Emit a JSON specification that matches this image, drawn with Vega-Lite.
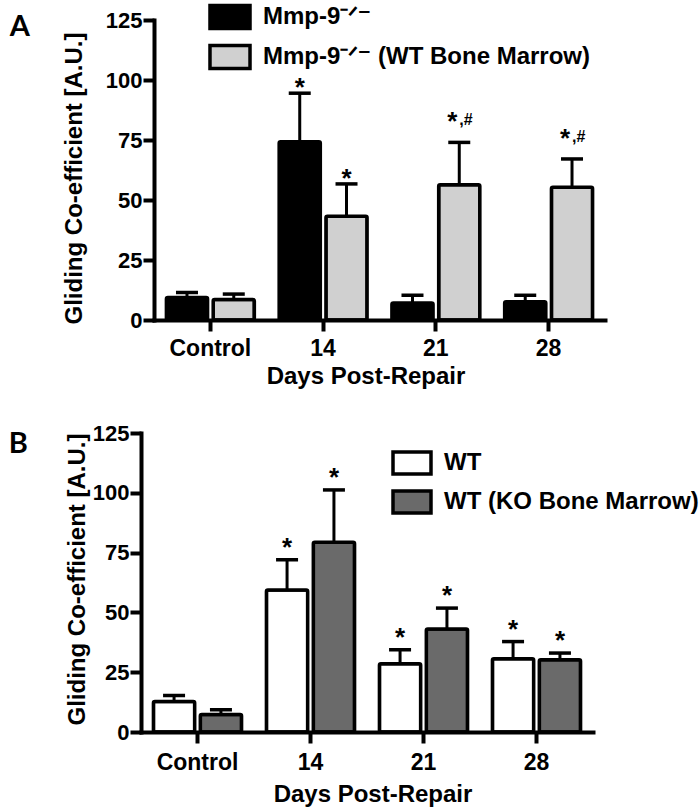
{
  "$schema": "https://vega.github.io/schema/vega-lite/v6.json",
  "padding": {"left": 8, "top": 3, "right": 2, "bottom": 2},
  "spacing": 34,
  "background": "white",
  "datasets": {
    "a": [
      {"day": "Control", "group": "Mmp-9⁻ᐟ⁻", "mean": 9.4, "err": 11.5, "ann": ""},
      {"day": "Control", "group": "Mmp-9⁻ᐟ⁻ (WT Bone Marrow)", "mean": 8.5, "err": 10.8, "ann": ""},
      {"day": "14", "group": "Mmp-9⁻ᐟ⁻", "mean": 74.3, "err": 94.5, "ann": "*"},
      {"day": "14", "group": "Mmp-9⁻ᐟ⁻ (WT Bone Marrow)", "mean": 43.2, "err": 56.7, "ann": "*"},
      {"day": "21", "group": "Mmp-9⁻ᐟ⁻", "mean": 7.1, "err": 10.3, "ann": ""},
      {"day": "21", "group": "Mmp-9⁻ᐟ⁻ (WT Bone Marrow)", "mean": 56.4, "err": 74, "ann": "*,#"},
      {"day": "28", "group": "Mmp-9⁻ᐟ⁻", "mean": 7.6, "err": 10.3, "ann": ""},
      {"day": "28", "group": "Mmp-9⁻ᐟ⁻ (WT Bone Marrow)", "mean": 55.3, "err": 67.1, "ann": "*,#"}
    ],
    "b": [
      {"day": "Control", "group": "WT", "mean": 12.8, "err": 15.3, "ann": ""},
      {"day": "Control", "group": "WT (KO Bone Marrow)", "mean": 7.3, "err": 9.3, "ann": ""},
      {"day": "14", "group": "WT", "mean": 59.4, "err": 72, "ann": "*"},
      {"day": "14", "group": "WT (KO Bone Marrow)", "mean": 79.3, "err": 101.2, "ann": "*"},
      {"day": "21", "group": "WT", "mean": 28.5, "err": 34.4, "ann": "*"},
      {"day": "21", "group": "WT (KO Bone Marrow)", "mean": 43.1, "err": 51.8, "ann": "*"},
      {"day": "28", "group": "WT", "mean": 30.6, "err": 37.8, "ann": "*"},
      {"day": "28", "group": "WT (KO Bone Marrow)", "mean": 30.2, "err": 33, "ann": "*"}
    ]
  },
  "config": {
    "view": {"stroke": null},
    "font": "Liberation Sans",
    "axis": {
      "grid": false,
      "domainColor": "black", "domainWidth": 4, "domainCap": "square",
      "tickColor": "black", "tickWidth": 4, "tickSize": 11,
      "labelColor": "black", "labelFont": "Liberation Sans", "labelFontWeight": "bold",
      "titleColor": "black", "titleFont": "Liberation Sans", "titleFontWeight": "bold", "titleFontSize": 24
    },
    "axisX": {"labelFontSize": 23, "labelAngle": 0, "labelBaseline": "alphabetic", "titleBaseline": "alphabetic"},
    "axisY": {"labelFontSize": 22, "labelPadding": 1, "titleBaseline": "alphabetic"},
    "legend": {
      "orient": "none", "title": null, "padding": 0,
      "labelFont": "Liberation Sans", "labelFontWeight": "bold", "labelFontSize": 24, "labelColor": "black",
      "labelLimit": 600,
      "symbolStrokeColor": "black", "symbolStrokeWidth": 3.5, "symbolOpacity": 1
    },
    "title": {"orient": "left", "anchor": "end", "frame": "group", "angle": 0, "align": "right", "baseline": "alphabetic", "font": "Lato", "fontSize": 29, "fontWeight": "bold", "color": "black"}
  },
  "resolve": {"scale": {"fill": "independent", "x": "independent", "y": "independent", "xOffset": "independent"}, "legend": {"fill": "independent"}},
  "vconcat": [
    {
      "width": 451,
      "height": 300,
      "title": {"text": "A", "offset": 12, "dy": -7},
      "data": {"name": "a"},
      "encoding": {
        "x": {"field": "day", "type": "nominal", "sort": ["Control", "14", "21", "28"],
          "scale": {"paddingInner": 0.22, "paddingOuter": 0.11},
          "axis": {"title": "Days Post-Repair", "titleX": 211.5, "titleY": 63, "labelPadding": 24}},
        "xOffset": {"field": "group", "type": "nominal", "sort": ["Mmp-9⁻ᐟ⁻", "Mmp-9⁻ᐟ⁻ (WT Bone Marrow)"], "scale": {"paddingInner": 0.12}},
        "y": {"field": "mean", "type": "quantitative", "scale": {"domain": [0, 125], "nice": false},
          "axis": {"title": "Gliding Co-efficient [A.U.]", "values": [0, 25, 50, 75, 100, 125], "titleX": -73, "titleY": 158}}
      },
      "layer": [
        {"mark": {"type": "rule", "strokeWidth": 3, "color": "black"}, "encoding": {"y2": {"field": "err"}}},
        {"mark": {"type": "bar", "stroke": "black", "strokeWidth": 3.5, "cornerRadius": 1.5, "opacity": 1},
          "encoding": {"fill": {"field": "group", "type": "nominal", "sort": ["Mmp-9⁻ᐟ⁻", "Mmp-9⁻ᐟ⁻ (WT Bone Marrow)"],
            "scale": {"domain": ["Mmp-9⁻ᐟ⁻", "Mmp-9⁻ᐟ⁻ (WT Bone Marrow)"], "range": ["#000000", "#d0d0d0"]},
            "legend": {"legendX": 62.5, "legendY": -16.5, "symbolType": "M-1.74,-1H1.74V1H-1.74Z", "symbolSize": 529, "rowPadding": 3, "labelOffset": 19.5}}}},
        {"mark": {"type": "tick", "size": 22, "thickness": 3.5, "color": "black", "opacity": 1}, "encoding": {"y": {"field": "err", "type": "quantitative"}}},
        {"transform": [{"filter": "datum.ann == '*'"}],
          "mark": {"type": "text", "text": "*", "font": "Liberation Sans", "fontWeight": "bold", "fontSize": 26, "baseline": "alphabetic", "dy": 3, "color": "black"},
          "encoding": {"y": {"field": "err", "type": "quantitative"}}},
        {"transform": [{"filter": "datum.ann == '*,#'"}],
          "mark": {"type": "text", "text": "*", "font": "Liberation Sans", "fontWeight": "bold", "fontSize": 26, "baseline": "alphabetic", "dy": -12, "dx": -7, "color": "black"},
          "encoding": {"y": {"field": "err", "type": "quantitative"}}},
        {"transform": [{"filter": "datum.ann == '*,#'"}],
          "mark": {"type": "text", "text": ",#", "font": "Liberation Sans", "fontWeight": "bold", "fontSize": 16, "baseline": "alphabetic", "align": "left", "dy": -17, "dx": 0, "color": "black"},
          "encoding": {"y": {"field": "err", "type": "quantitative"}}}
      ]
    },
    {
      "width": 439,
      "height": 299,
      "title": {"text": "B", "offset": 18, "dy": -3},
      "data": {"name": "b"},
      "encoding": {
        "x": {"field": "day", "type": "nominal", "sort": ["Control", "14", "21", "28"],
          "scale": {"paddingInner": 0.22, "paddingOuter": 0.11, "range": [-13, 439]},
          "axis": {"title": "Days Post-Repair", "titleX": 218.5, "titleY": 69, "labelPadding": 26}},
        "xOffset": {"field": "group", "type": "nominal", "sort": ["WT", "WT (KO Bone Marrow)"], "scale": {"paddingInner": 0.12}},
        "y": {"field": "mean", "type": "quantitative", "scale": {"domain": [0, 125], "nice": false},
          "axis": {"title": "Gliding Co-efficient [A.U.]", "values": [0, 25, 50, 75, 100, 125], "offset": 13, "titleX": -57, "titleY": 146}}
      },
      "layer": [
        {"mark": {"type": "rule", "strokeWidth": 3, "color": "black"}, "encoding": {"y2": {"field": "err"}}},
        {"mark": {"type": "bar", "stroke": "black", "strokeWidth": 3.5, "cornerRadius": 1.5, "opacity": 1},
          "encoding": {"fill": {"field": "group", "type": "nominal", "sort": ["WT", "WT (KO Bone Marrow)"],
            "scale": {"domain": ["WT", "WT (KO Bone Marrow)"], "range": ["#ffffff", "#6a6a6a"]},
            "legend": {"legendX": 245, "legendY": 17, "symbolType": "M-1.727,-1H1.727V1H-1.727Z", "symbolSize": 484, "rowPadding": 3, "labelOffset": 19}}}},
        {"mark": {"type": "tick", "size": 22, "thickness": 3.5, "color": "black", "opacity": 1}, "encoding": {"y": {"field": "err", "type": "quantitative"}}},
        {"transform": [{"filter": "datum.ann == '*'"}],
          "mark": {"type": "text", "text": "*", "font": "Liberation Sans", "fontWeight": "bold", "fontSize": 26, "baseline": "alphabetic", "dy": -4, "color": "black"},
          "encoding": {"y": {"field": "err", "type": "quantitative"}}}
      ]
    }
  ]
}
